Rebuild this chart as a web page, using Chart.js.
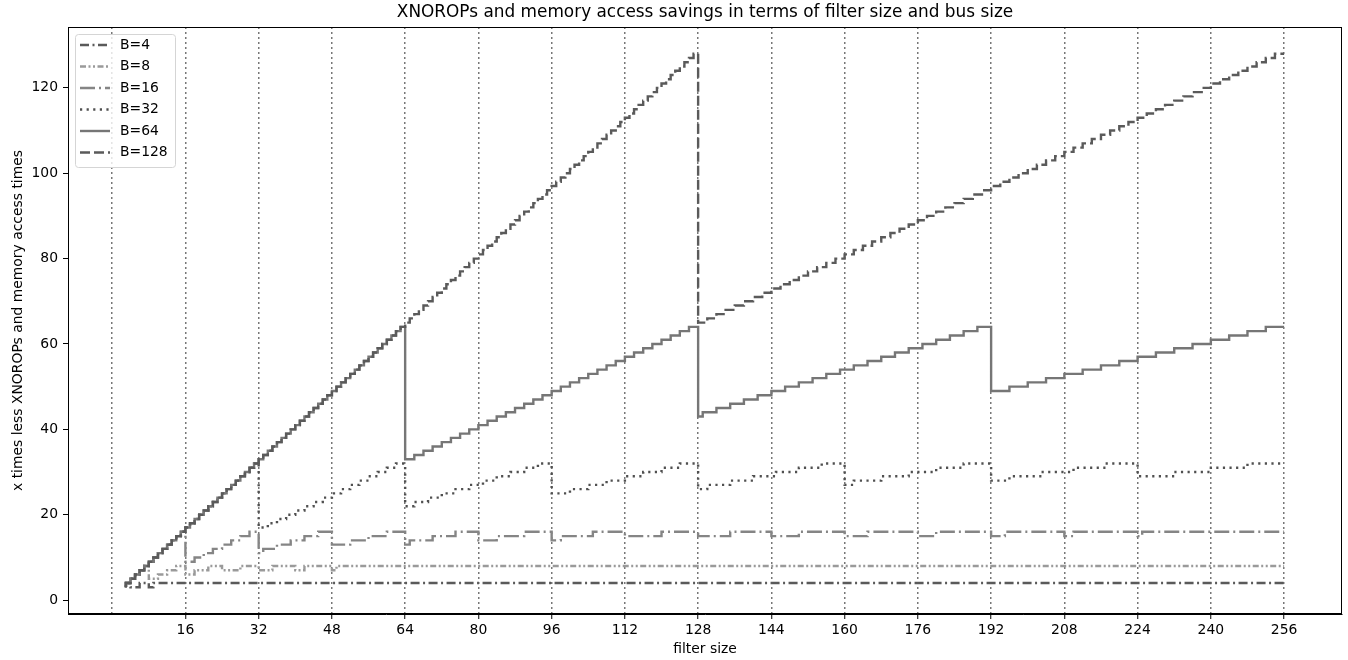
<!DOCTYPE html>
<html>
<head>
<meta charset="utf-8">
<script src="https://cdn.jsdelivr.net/npm/chart.js@4.4.1/dist/chart.umd.min.js"></script>
<style>
  html, body { margin: 0; padding: 0; background: #fff; }
  #wrap { width: 1348px; height: 660px; }
</style>
</head>
<body>
<div id="wrap"><canvas id="chart" width="1348" height="660"></canvas></div>
<script>
// bus sizes (one line each)
const busSizes = [4, 8, 16, 32, 64, 128];

// [filter size, savings] at the end of every step
const bus4 = [[3,3],[4,4],[6,3],[8,4],[9,3],[256,4]];

const bus8 = [[3,3],[4,4],[5,5],[6,6],[7,7],[8,8],[10,5],[12,6],[14,7],[16,8],
  [18,6],[21,7],[24,8],[28,7],[32,8],[35,7],[40,8],[42,7],[48,8],[49,7],[256,8]];

const bus16 = [[3,3],[4,4],[5,5],[6,6],[7,7],[8,8],[9,9],[10,10],[11,11],[12,12],
  [13,13],[14,14],[15,15],[16,16],[18,9],[20,10],[22,11],[24,12],[26,13],[28,14],
  [30,15],[32,16],[33,11],[36,12],[39,13],[42,14],[45,15],[48,16],[52,13],[56,14],
  [60,15],[64,16],[65,13],[70,14],[75,15],[80,16],[84,14],[90,15],[96,16],[98,14],
  [105,15],[112,16],[120,15],[128,16],[135,15],[144,16],[150,15],[160,16],[165,15],
  [176,16],[180,15],[192,16],[195,15],[208,16],[210,15],[224,16],[225,15],[256,16]];

const bus32 = [[3,3],[4,4],[5,5],[6,6],[7,7],[8,8],[9,9],[10,10],[11,11],[12,12],
  [13,13],[14,14],[15,15],[16,16],[17,17],[18,18],[19,19],[20,20],[21,21],[22,22],
  [23,23],[24,24],[25,25],[26,26],[27,27],[28,28],[29,29],[30,30],[31,31],[32,32],
  [34,17],[36,18],[38,19],[40,20],[42,21],[44,22],[46,23],[48,24],[50,25],[52,26],
  [54,27],[56,28],[58,29],[60,30],[62,31],[64,32],
  [66,22],[69,23],[72,24],[75,25],[78,26],[81,27],[84,28],[87,29],[90,30],[93,31],[96,32],
  [100,25],[104,26],[108,27],[112,28],[116,29],[120,30],[124,31],[128,32],
  [130,26],[135,27],[140,28],[145,29],[150,30],[155,31],[160,32],
  [162,27],[168,28],[174,29],[180,30],[186,31],[192,32],
  [196,28],[203,29],[210,30],[217,31],[224,32],
  [232,29],[240,30],[248,31],[256,32]];

const bus64 = [[3,3],[4,4],[5,5],[6,6],[7,7],[8,8],[9,9],[10,10],[11,11],[12,12],
  [13,13],[14,14],[15,15],[16,16],[17,17],[18,18],[19,19],[20,20],[21,21],[22,22],
  [23,23],[24,24],[25,25],[26,26],[27,27],[28,28],[29,29],[30,30],[31,31],[32,32],
  [33,33],[34,34],[35,35],[36,36],[37,37],[38,38],[39,39],[40,40],[41,41],[42,42],
  [43,43],[44,44],[45,45],[46,46],[47,47],[48,48],[49,49],[50,50],[51,51],[52,52],
  [53,53],[54,54],[55,55],[56,56],[57,57],[58,58],[59,59],[60,60],[61,61],[62,62],
  [63,63],[64,64],
  [66,33],[68,34],[70,35],[72,36],[74,37],[76,38],[78,39],[80,40],[82,41],[84,42],
  [86,43],[88,44],[90,45],[92,46],[94,47],[96,48],[98,49],[100,50],[102,51],[104,52],
  [106,53],[108,54],[110,55],[112,56],[114,57],[116,58],[118,59],[120,60],[122,61],
  [124,62],[126,63],[128,64],
  [129,43],[132,44],[135,45],[138,46],[141,47],[144,48],[147,49],[150,50],[153,51],
  [156,52],[159,53],[162,54],[165,55],[168,56],[171,57],[174,58],[177,59],[180,60],
  [183,61],[186,62],[189,63],[192,64],
  [196,49],[200,50],[204,51],[208,52],[212,53],[216,54],[220,55],[224,56],[228,57],
  [232,58],[236,59],[240,60],[244,61],[248,62],[252,63],[256,64]];

const bus128 = [[3,3],[4,4],[5,5],[6,6],[7,7],[8,8],[9,9],[10,10],[11,11],[12,12],
  [13,13],[14,14],[15,15],[16,16],[17,17],[18,18],[19,19],[20,20],[21,21],[22,22],
  [23,23],[24,24],[25,25],[26,26],[27,27],[28,28],[29,29],[30,30],[31,31],[32,32],
  [33,33],[34,34],[35,35],[36,36],[37,37],[38,38],[39,39],[40,40],[41,41],[42,42],
  [43,43],[44,44],[45,45],[46,46],[47,47],[48,48],[49,49],[50,50],[51,51],[52,52],
  [53,53],[54,54],[55,55],[56,56],[57,57],[58,58],[59,59],[60,60],[61,61],[62,62],
  [63,63],[64,64],[65,65],[66,66],[67,67],[68,68],[69,69],[70,70],[71,71],[72,72],
  [73,73],[74,74],[75,75],[76,76],[77,77],[78,78],[79,79],[80,80],[81,81],[82,82],
  [83,83],[84,84],[85,85],[86,86],[87,87],[88,88],[89,89],[90,90],[91,91],[92,92],
  [93,93],[94,94],[95,95],[96,96],[97,97],[98,98],[99,99],[100,100],[101,101],[102,102],
  [103,103],[104,104],[105,105],[106,106],[107,107],[108,108],[109,109],[110,110],
  [111,111],[112,112],[113,113],[114,114],[115,115],[116,116],[117,117],[118,118],
  [119,119],[120,120],[121,121],[122,122],[123,123],[124,124],[125,125],[126,126],
  [127,127],[128,128],
  [130,65],[132,66],[134,67],[136,68],[138,69],[140,70],[142,71],[144,72],[146,73],
  [148,74],[150,75],[152,76],[154,77],[156,78],[158,79],[160,80],[162,81],[164,82],
  [166,83],[168,84],[170,85],[172,86],[174,87],[176,88],[178,89],[180,90],[182,91],
  [184,92],[186,93],[188,94],[190,95],[192,96],[194,97],[196,98],[198,99],[200,100],
  [202,101],[204,102],[206,103],[208,104],[210,105],[212,106],[214,107],[216,108],
  [218,109],[220,110],[222,111],[224,112],[226,113],[228,114],[230,115],[232,116],
  [234,117],[236,118],[238,119],[240,120],[242,121],[244,122],[246,123],[248,124],
  [250,125],[252,126],[254,127],[256,128]];

const seriesData = [bus4, bus8, bus16, bus32, bus64, bus128];

// axes
const xGridValues = [0, 16, 32, 48, 64, 80, 96, 112, 128, 144, 160, 176, 192, 208, 224, 240, 256];
const yTickValues = [0, 20, 40, 60, 80, 100, 120];
const chartTitle = 'XNOROPs and memory access savings in terms of filter size and bus size';

// styling per line
const lineColors = ['#5a5a5a', '#9a9a9a', '#858585', '#505050', '#767676', '#5a5a5a'];
const lineDashes = [[9, 3.5, 2, 3.5], [6, 2.5, 2, 2.5, 2, 2.5], [15, 4, 2, 4], [2.2, 4.4], [], [10, 4]];

const FONT = "'DejaVu Sans', sans-serif";
Chart.defaults.font.family = FONT;
Chart.defaults.font.size = 13.9;
Chart.defaults.color = '#000';

const frameAndLegend = {
  id: 'frameAndLegend',
  afterDraw(chart) {
    const { ctx, chartArea } = chart;
    ctx.save();
    // title, centred over the plot area
    ctx.fillStyle = '#000';
    ctx.font = '16.9px ' + FONT;
    ctx.textAlign = 'center';
    ctx.textBaseline = 'middle';
    ctx.fillText(chartTitle, (chartArea.left + chartArea.right) / 2, 13);

    // box around plot
    ctx.strokeStyle = '#000';
    ctx.lineWidth = 1;
    ctx.strokeRect(Math.round(chartArea.left) + 0.5, Math.round(chartArea.top) + 0.5,
      Math.round(chartArea.width) - 1, Math.round(chartArea.height) - 1);

    // legend in upper left
    const x0 = chartArea.left + 7, y0 = chartArea.top + 7;
    ctx.beginPath();
    ctx.roundRect(x0 + 0.5, y0 + 0.5, 100, 133, 3);
    ctx.fillStyle = 'rgba(255,255,255,0.8)';
    ctx.fill();
    ctx.strokeStyle = '#d5d5d5';
    ctx.stroke();
    chart.data.datasets.forEach((ds, i) => {
      const y = y0 + 11 + i * 21.5;
      ctx.beginPath();
      ctx.setLineDash(ds.borderDash);
      ctx.strokeStyle = ds.borderColor;
      ctx.lineWidth = ds.borderWidth;
      ctx.moveTo(x0 + 5, y);
      ctx.lineTo(x0 + 35, y);
      ctx.stroke();
      ctx.setLineDash([]);
      ctx.fillStyle = '#000';
      ctx.font = '13.9px ' + FONT;
      ctx.textAlign = 'left';
      ctx.fillText(ds.label, x0 + 45, y);
    });
    ctx.restore();
  }
};

new Chart(document.getElementById('chart'), {
  type: 'line',
  data: {
    datasets: busSizes.map((b, i) => ({
      label: 'B=' + b,
      data: seriesData[i],
      borderColor: lineColors[i],
      borderDash: lineDashes[i],
      borderWidth: 2.4,
      stepped: 'after',
      pointRadius: 0,
      fill: false,
      order: busSizes.length - i
    }))
  },
  options: {
    responsive: false,
    animation: false,
    layout: { padding: { left: 0, right: 6, top: 27, bottom: 0 } },
    plugins: {
      legend: { display: false },
      tooltip: { enabled: false },
      title: { display: false }
    },
    scales: {
      x: {
        type: 'linear',
        min: -9.65,
        max: 268.65,
        afterBuildTicks: (s) => { s.ticks = xGridValues.map(v => ({ value: v })); },
        afterFit: (s) => { s.height = 46; },
        ticks: {
          autoSkip: false,
          maxRotation: 0,
          padding: 3,
          color: '#000',
          callback: (v) => (v === 0 ? '' : v)
        },
        grid: {
          color: '#777777',
          lineWidth: 1.5,
          tickLength: 5,
          tickWidth: 1,
          tickColor: (c) => (c.tick && c.tick.value === 0 ? 'rgba(0,0,0,0)' : '#000')
        },
        border: { color: '#000', width: 1, dash: [2, 3] },
        title: {
          display: true,
          text: 'filter size',
          color: '#000',
          padding: { top: 0, bottom: 2.7 }
        }
      },
      y: {
        type: 'linear',
        min: -3.25,
        max: 134.25,
        afterBuildTicks: (s) => { s.ticks = yTickValues.map(v => ({ value: v })); },
        afterFit: (s) => { s.width = 68; },
        ticks: { padding: 5, color: '#000' },
        grid: { drawOnChartArea: false, tickLength: 5, tickColor: '#000' },
        border: { color: '#000', width: 1 },
        title: {
          display: true,
          text: 'x times less XNOROPs and memory access times',
          color: '#000',
          padding: { top: 10.3, bottom: 0 }
        }
      }
    }
  },
  plugins: [frameAndLegend]
});
</script>
</body>
</html>
